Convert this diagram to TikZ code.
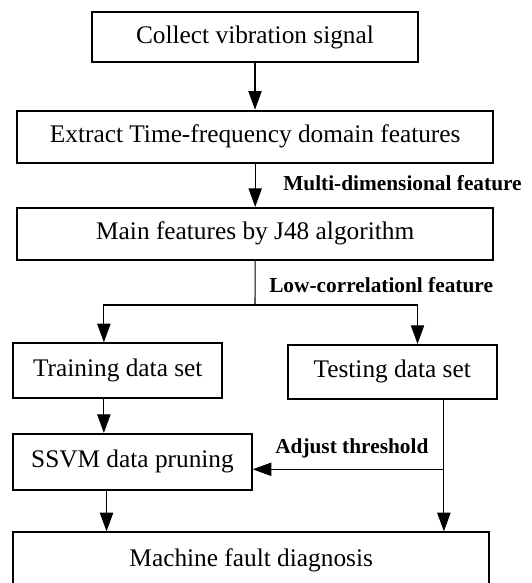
\documentclass[tikz,border=0pt]{standalone}
\usepackage{fontspec}
\setmainfont{Liberation Serif}
\usetikzlibrary{arrows.meta,calc}
\tikzset{
  box/.style={draw, line width=1.5pt, inner sep=0pt, font=\fontsize{19}{22}\selectfont},
  conn/.style={line width=0.8pt},
  arr/.style={conn, -{Triangle[length=14pt,width=10pt]}},
  lbl/.style={anchor=west, inner sep=0pt, font=\fontsize{16}{18}\selectfont\bfseries}
}
\begin{document}
\begin{tikzpicture}[x=0.75pt,y=-0.75pt]
\useasboundingbox (0,0) rectangle (532,583);
\clip (0,0) rectangle (532,583);
\node[box, minimum width=244.5pt, minimum height=38pt] (b1) at (255,37) {Collect vibration signal};
\node[box, minimum width=356.8pt, minimum height=39.2pt] (b2) at (255.2,136.8) {Extract Time-frequency domain features};
\node[box, minimum width=356.8pt, minimum height=38.8pt] (b3) at (255.2,233.8) {Main features by J48 algorithm};
\node[box, minimum width=156.75pt, minimum height=40.8pt] (train) at (117.8,370.5) {Training data set};
\node[box, minimum width=156.75pt, minimum height=40.3pt] (test) at (392.2,371.8) {Testing data set};
\node[box, minimum width=178.8pt, minimum height=41.8pt] (ssvm) at (132.5,461.8) {SSVM data pruning};
\node[box, minimum width=356.8pt, minimum height=41.5pt] (mach) at (251.2,560) {Machine fault diagnosis};

\node[lbl] (l1) at (283,182.7) {Multi-dimensional feature};
\node[lbl] (l2) at (269,285) {Low-correlationl feature};
\node[lbl] (l3) at (275,448.3) {Adjust threshold};

\coordinate (split) at (255,305);
\coordinate (adj) at (443.3,469.3);

\draw[arr] (b1.south) -- (b1.south |- b2.north);
\draw[arr] (b2.south) -- (b2.south |- b3.north);
\draw[conn] (b3.south) -- (split);
\draw[arr] (split) -| ($(train.north west)!0.434!(train.north east)$);
\draw[arr] (split) -| ($(test.north west)!0.62!(test.north east)$);
\draw[arr] ($(train.south west)!0.434!(train.south east)$) coordinate (ta) -- (ta |- ssvm.north);
\draw[arr] ($(ssvm.south west)!0.392!(ssvm.south east)$) coordinate (sa) -- (sa |- mach.north);
\draw[arr] ($(test.south west)!0.745!(test.south east)$) coordinate (tb) -- (tb |- mach.north);
\draw[arr] (adj) -- (adj -| ssvm.east);
\end{tikzpicture}
\end{document}
